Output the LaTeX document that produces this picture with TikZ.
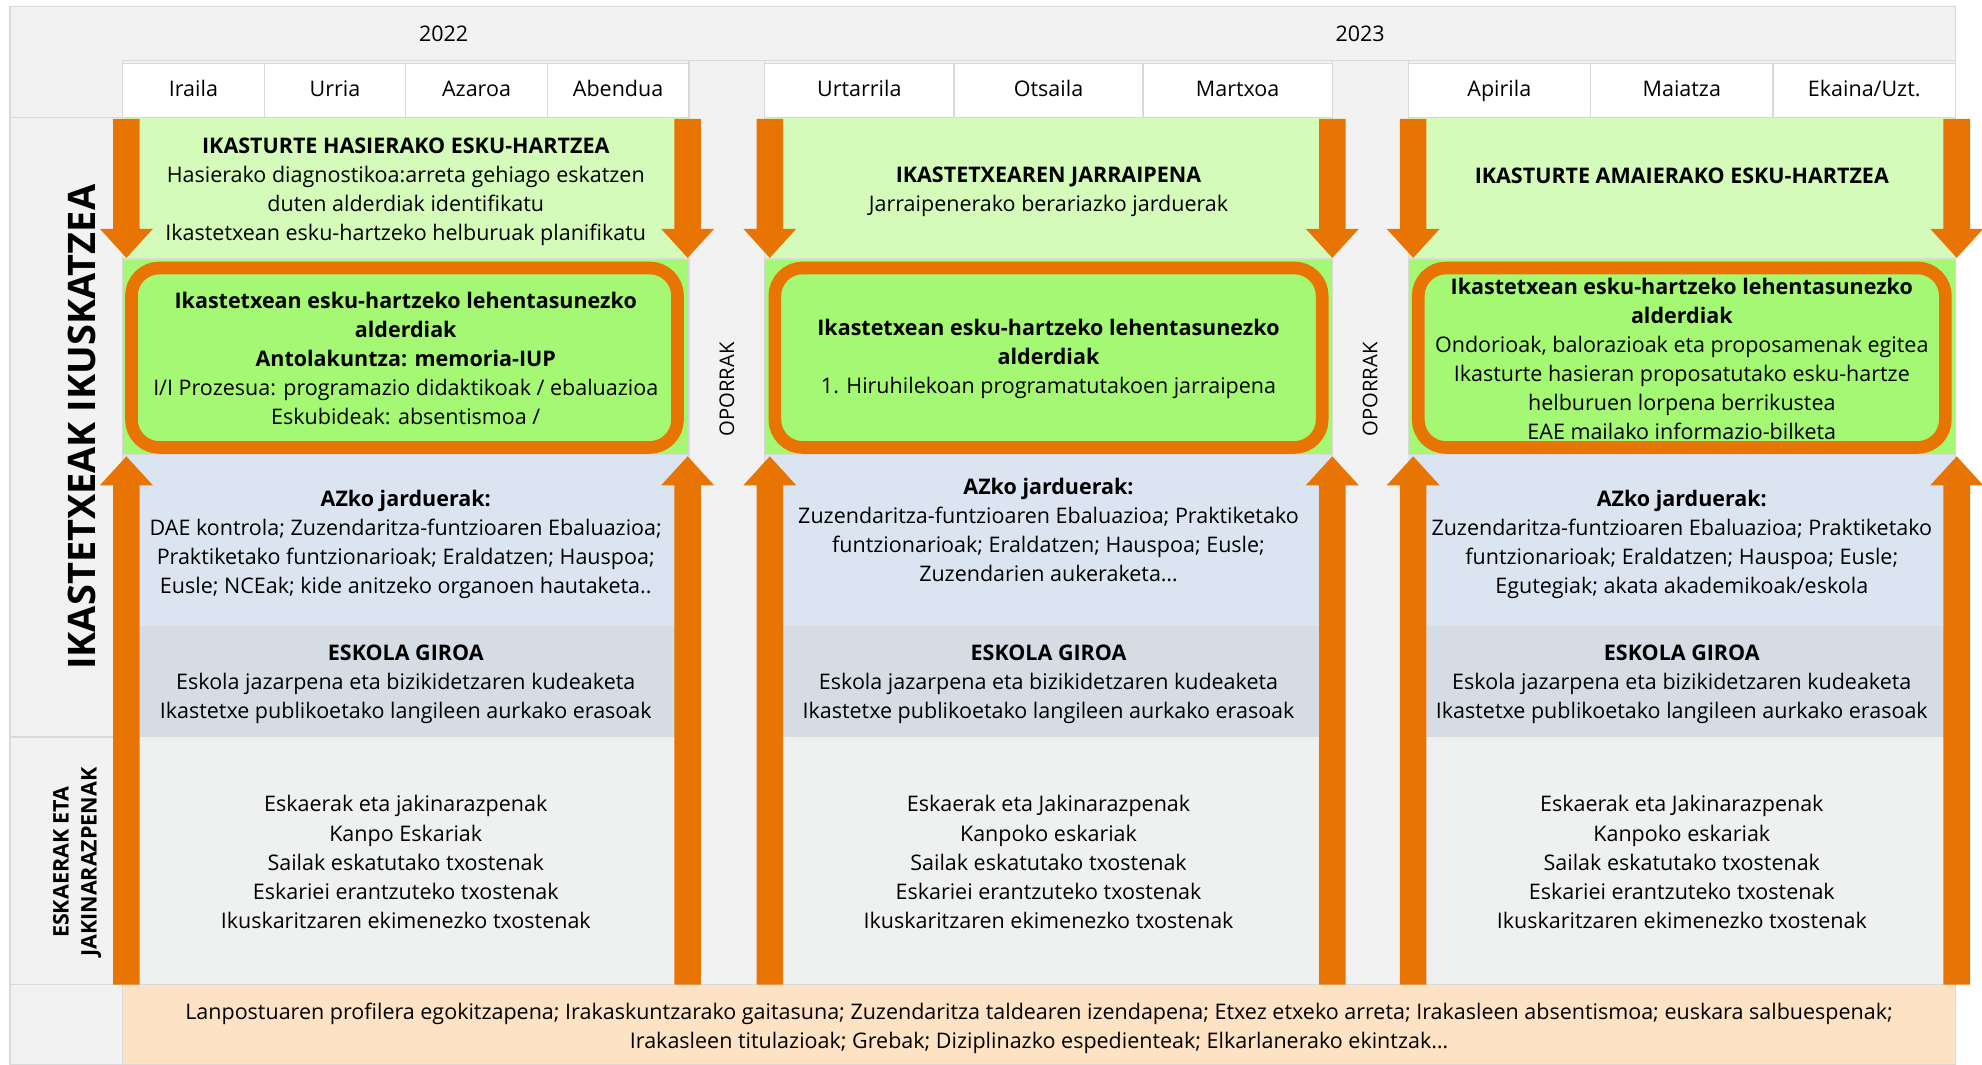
\documentclass[tikz,border=0pt]{standalone}
\usepackage{fontspec}
\setmainfont{Open Sans}
\usetikzlibrary{positioning}
\definecolor{bggray}{RGB}{242,242,242}
\definecolor{linegray}{RGB}{217,217,217}
\definecolor{palegreen}{RGB}{213,251,186}
\definecolor{brightgreen}{RGB}{165,248,116}
\definecolor{arroworange}{RGB}{232,117,3}
\definecolor{paleblue}{RGB}{219,229,241}
\definecolor{bluegray}{RGB}{214,220,228}
\definecolor{lightrow}{RGB}{239,240,240}
\definecolor{peach}{RGB}{253,226,196}
\tikzset{
    raw cell/.style={rectangle, draw=linegray, line width=1pt},
    month/.style={raw cell, fill=white, minimum height=45pt, inner sep=0pt, text height=12pt, text depth=4pt, font=\fontsize{17}{20}\selectfont},
    year/.style={inner sep=0pt, text height=12pt, text depth=4pt, font=\fontsize{17}{20}\selectfont},
    txt/.style={align=center, inner sep=0pt, font=\fontsize{17}{23}\selectfont},
    side/.style={rotate=90, align=center, inner sep=0pt},
    prio/.style={draw=arroworange, line width=10pt, rounded corners=22pt, fill=brightgreen},
    flow/.style={fill=arroworange}
}
\begin{document}
\begin{tikzpicture}[x=1pt,y=-1pt]
    \useasboundingbox (0,0) rectangle (1568,842);
    \filldraw[fill=bggray, draw=linegray, line width=1pt] (8,5) rectangle (1547,842);
    % gaps between the three periods
    \filldraw[fill=bggray, draw=linegray, line width=1pt] (545,48) rectangle (605,779);
    \filldraw[fill=bggray, draw=linegray, line width=1pt] (1054,48) rectangle (1114,779);
    \draw[linegray, line width=1pt] (97,48) -- (1547,48);
    \draw[linegray, line width=1pt] (8,93) -- (97,93) (8,583) -- (97,583) (8,779) -- (97,779) (97,48) -- (97,842);

    \node[year] (y2022) at (351,29) {2022};
    \node[year] (y2023) at (1076,29) {2023};
    \foreach \name/\l/\r [count=\i] in {Iraila/97/209, Urria/209/321, Azaroa/321/433, Abendua/433/545,
        Urtarrila/605/754.7, Otsaila/754.7/904.3, Martxoa/904.3/1054,
        Apirila/1114/1258.3, Maiatza/1258.3/1402.7, Ekaina\slash Uzt./1402.7/1547}
        \node[month, minimum width=\r-\l, yshift=-2pt] (month\i) at ({(\l+\r)/2},70.5) {\name};

    % rows of each period
    \foreach \l/\r in {97/545, 605/1054, 1114/1547}{
        \filldraw[raw cell, fill=palegreen] (\l,93) rectangle (\r,205);
        \filldraw[raw cell, fill=brightgreen] (\l,205) rectangle (\r,360);
        \fill[paleblue] (\l,360) rectangle (\r,495);
        \fill[bluegray] (\l,495) rectangle (\r,583);
        \fill[lightrow] (\l,583) rectangle (\r,779);
    }
    \filldraw[raw cell, fill=peach] (97,779) rectangle (1547,842);

    \draw[prio] (104,212) rectangle (536,354);
    \draw[prio] (613,212) rectangle (1046,354);
    \draw[prio] (1122,212) rectangle (1539,354);

    % arrows
    \foreach \x in {100,544,609,1054,1118,1548}{
        \fill[flow] (\x-10.5,94) -- (\x+10.5,94) -- (\x+10.5,181) -- (\x+21,181) -- (\x,204) -- (\x-21,181) -- (\x-10.5,181) -- cycle;
        \fill[flow] (\x-10.5,779) -- (\x+10.5,779) -- (\x+10.5,384) -- (\x+21,384) -- (\x,361) -- (\x-21,384) -- (\x-10.5,384) -- cycle;
    }

    \node[side, font=\fontsize{30}{30}\selectfont\bfseries] (ikuskatzea) at (65,338) {IKASTETXEAK IKUSKATZEA};
    \node[side, font=\fontsize{17}{22}\selectfont\bfseries] (eskaerak) at (61,682) {ESKAERAK ETA\\JAKINARAZPENAK};
    \node[side, font=\fontsize{16}{18}\selectfont] (oporrak1) at (575,308) {OPORRAK};
    \node[side, font=\fontsize{16}{18}\selectfont] (oporrak2) at (1084,308) {OPORRAK};

    \begin{scope}[every node/.style={txt}]
        % 2022 irailetik abendura
        \node (hasiera) at (321,152) {{\bfseries IKASTURTE HASIERAKO ESKU-HARTZEA}\\
            Hasierako diagnostikoa:arreta gehiago eskatzen\\duten alderdiak identifikatu\\
            Ikastetxean esku-hartzeko helburuak planifikatu};
        \node (prio1) at (321,283.5) {{\bfseries Ikastetxean esku-hartzeko lehentasunezko}\\{\bfseries alderdiak}\\
            {\bfseries Antolakuntza: memoria-IUP}\\I/I Prozesua: programazio didaktikoak / ebaluazioa\\
            Eskubideak: absentismoa /};
        \node (az1) at (321,431) {{\bfseries AZko jarduerak:}\\DAE kontrola; Zuzendaritza-funtzioaren Ebaluazioa;\\
            Praktiketako funtzionarioak; Eraldatzen; Hauspoa;\\Eusle; NCEak; kide anitzeko organoen hautaketa..};
        \node (giroa1) at (321,541.5) {{\bfseries ESKOLA GIROA}\\Eskola jazarpena eta bizikidetzaren kudeaketa\\
            Ikastetxe publikoetako langileen aurkako erasoak};
        \node (eskari1) at (321,682) {Eskaerak eta jakinarazpenak\\Kanpo Eskariak\\Sailak eskatutako txostenak\\
            Eskariei erantzuteko txostenak\\Ikuskaritzaren ekimenezko txostenak};
        % 2023 urtarriletik martxora
        \node (jarraipena) at (829.5,152) {{\bfseries IKASTETXEAREN JARRAIPENA}\\Jarraipenerako berariazko jarduerak};
        \node (prio2) at (829.5,284) {{\bfseries Ikastetxean esku-hartzeko lehentasunezko}\\{\bfseries alderdiak}\\
            1. Hiruhilekoan programatutakoen jarraipena};
        \node (az2) at (829.5,419) {{\bfseries AZko jarduerak:}\\Zuzendaritza-funtzioaren Ebaluazioa; Praktiketako\\
            funtzionarioak; Eraldatzen; Hauspoa; Eusle;\\Zuzendarien aukeraketa…};
        \node (giroa2) at (829.5,541.5) {{\bfseries ESKOLA GIROA}\\Eskola jazarpena eta bizikidetzaren kudeaketa\\
            Ikastetxe publikoetako langileen aurkako erasoak};
        \node (eskari2) at (829.5,682) {Eskaerak eta Jakinarazpenak\\Kanpoko eskariak\\Sailak eskatutako txostenak\\
            Eskariei erantzuteko txostenak\\Ikuskaritzaren ekimenezko txostenak};
        % 2023 apiriletik uztailera
        \node (amaiera) at (1330.5,139) {{\bfseries IKASTURTE AMAIERAKO ESKU-HARTZEA}};
        \node (prio3) at (1330.5,284) {{\bfseries Ikastetxean esku-hartzeko lehentasunezko}\\{\bfseries alderdiak}\\
            Ondorioak, balorazioak eta proposamenak egitea\\Ikasturte hasieran proposatutako esku-hartze\\
            helburuen lorpena berrikustea\\EAE mailako informazio-bilketa};
        \node (az3) at (1330.5,431) {{\bfseries AZko jarduerak:}\\Zuzendaritza-funtzioaren Ebaluazioa; Praktiketako\\
            funtzionarioak; Eraldatzen; Hauspoa; Eusle;\\Egutegiak; akata akademikoak/eskola};
        \node (giroa3) at (1330.5,541.5) {{\bfseries ESKOLA GIROA}\\Eskola jazarpena eta bizikidetzaren kudeaketa\\
            Ikastetxe publikoetako langileen aurkako erasoak};
        \node (eskari3) at (1330.5,682) {Eskaerak eta Jakinarazpenak\\Kanpoko eskariak\\Sailak eskatutako txostenak\\
            Eskariei erantzuteko txostenak\\Ikuskaritzaren ekimenezko txostenak};
        % beheko errenkada
        \node (lanpostua) at (822,813.5) {Lanpostuaren profilera egokitzapena; Irakaskuntzarako gaitasuna; Zuzendaritza taldearen izendapena; Etxez etxeko arreta; Irakasleen absentismoa; euskara salbuespenak;\\
            Irakasleen titulazioak; Grebak; Diziplinazko espedienteak; Elkarlanerako ekintzak…};
    \end{scope}
\end{tikzpicture}
\end{document}
